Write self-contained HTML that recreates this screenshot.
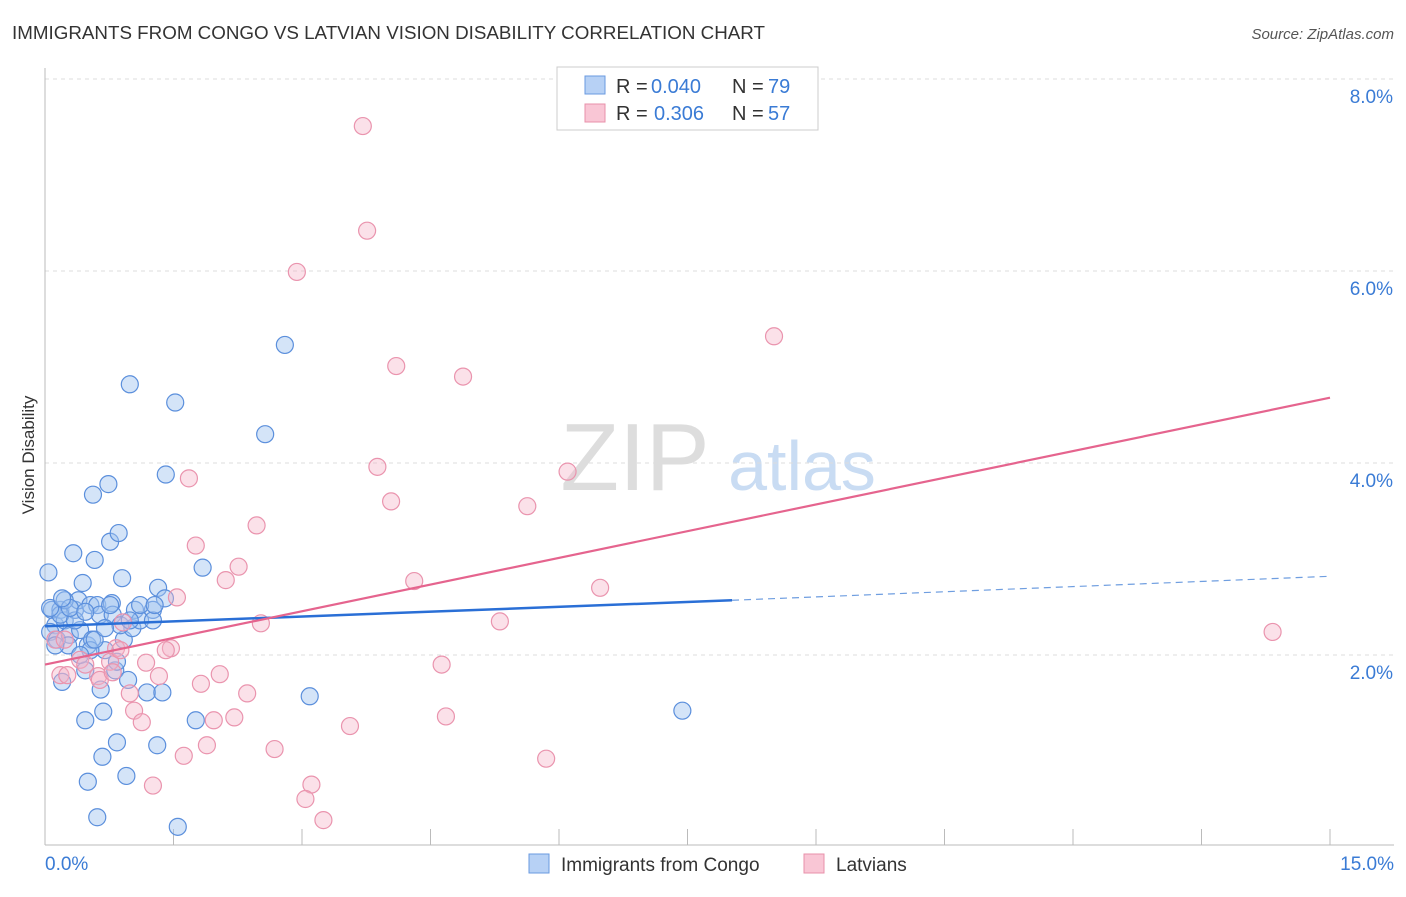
<!DOCTYPE html>
<html><head><meta charset="utf-8"><style>
body{margin:0;background:#fff;font-family:"Liberation Sans",sans-serif;}
svg text{font-family:"Liberation Sans",sans-serif;}
</style></head><body>
<svg id="chart" width="1406" height="892">
<text x="12" y="39" font-size="18" fill="#333" textLength="753" lengthAdjust="spacingAndGlyphs">IMMIGRANTS FROM CONGO VS LATVIAN VISION DISABILITY CORRELATION CHART</text>
<text x="1394" y="39" font-size="15" fill="#555" font-style="italic" text-anchor="end">Source: ZipAtlas.com</text>
<text x="635" y="490" font-size="96" fill="#ddd" font-family="Liberation Serif,serif" text-anchor="middle">ZIP</text>
<text x="802" y="490" font-size="70" fill="#c9dcf3" text-anchor="middle">atlas</text>
<text x="34" y="455" font-size="17" fill="#333" transform="rotate(-90 34 455)" text-anchor="middle">Vision Disability</text>
<g id="grid"></g><g id="axes"></g><g id="pts"></g><g id="lines"></g>
<g>
<rect x="557" y="67" width="261" height="63" fill="#fff" stroke="#ccc"/>
<rect x="585" y="76" width="20" height="18" fill="#b7d1f5" stroke="#6a9ae0"/>
<rect x="585" y="104" width="20" height="18" fill="#f9c6d5" stroke="#e890aa"/>
<text x="616" y="93" font-size="20" fill="#333">R =</text>
<text x="651" y="93" font-size="20" fill="#3a7bd5">0.040</text>
<text x="732" y="93" font-size="20" fill="#333">N =</text>
<text x="768" y="93" font-size="20" fill="#3a7bd5">79</text>
<text x="616" y="120" font-size="20" fill="#333">R =</text>
<text x="654" y="120" font-size="20" fill="#3a7bd5">0.306</text>
<text x="732" y="120" font-size="20" fill="#333">N =</text>
<text x="768" y="120" font-size="20" fill="#3a7bd5">57</text>
</g>
<g>
<rect x="529" y="854" width="20" height="19" fill="#b7d1f5" stroke="#6a9ae0"/>
<text x="561" y="871" font-size="19" fill="#333">Immigrants from Congo</text>
<rect x="804" y="854" width="20" height="19" fill="#f9c6d5" stroke="#e890aa"/>
<text x="836" y="871" font-size="19" fill="#333">Latvians</text>
</g>
</svg>
<script>
const yTicks=[2,4,6,8];
const yTickLabels=["2.0%","4.0%","6.0%","8.0%"];
const xTickLabels=["0.0%","15.0%"];
const blueX=[0.04,0.08,0.12,0.06,0.14,0.20,0.18,0.23,0.29,0.33,0.35,0.39,0.41,0.44,0.47,0.47,0.50,0.53,0.55,0.56,0.58,0.61,0.64,0.68,0.67,0.74,0.76,0.78,0.79,0.82,0.84,0.86,0.90,0.92,0.95,0.97,0.99,1.02,1.05,1.11,1.19,1.26,1.31,1.32,1.37,1.40,1.41,1.52,1.55,1.76,1.84,2.57,2.80,3.09,7.44,0.61,0.50,0.65,0.84,0.70,0.53,0.18,0.27,0.35,0.41,0.88,0.06,0.12,0.23,0.29,0.47,0.58,0.70,0.76,1.11,0.99,1.26,1.28,0.20];
const blueY=[2.86,2.47,2.31,2.24,2.16,1.72,2.47,2.36,2.21,3.06,2.47,2.57,2.26,2.75,1.84,1.32,2.10,2.52,2.16,3.67,2.99,2.52,2.42,1.41,0.94,3.78,3.18,2.54,2.42,1.84,1.09,3.27,2.80,2.16,0.74,1.74,4.82,2.28,2.47,2.36,1.61,2.47,1.06,2.70,1.61,2.59,3.88,4.63,0.21,1.32,2.91,4.30,5.23,1.57,1.42,0.31,0.68,1.64,1.93,2.05,2.05,2.42,2.10,2.36,2.00,2.31,2.49,2.10,2.57,2.49,2.45,2.16,2.28,2.52,2.52,2.36,2.36,2.52,2.59];
const pinkX=[3.71,3.76,2.94,8.51,4.10,4.88,1.68,3.88,6.10,4.04,5.63,2.47,1.76,2.26,2.11,4.31,6.48,1.54,5.31,2.52,0.91,14.33,1.47,1.41,0.83,0.41,1.18,4.63,0.76,0.18,0.26,0.62,1.33,2.04,1.82,0.99,2.36,1.04,2.21,4.68,1.97,1.13,3.56,1.89,2.68,1.62,5.85,1.26,3.11,3.04,3.25,0.47,0.64,0.12,0.23,0.88,0.79];
const pinkY=[7.51,6.42,5.99,5.32,5.01,4.90,3.84,3.96,3.91,3.60,3.55,3.35,3.14,2.92,2.78,2.77,2.70,2.60,2.35,2.33,2.34,2.24,2.07,2.05,2.07,1.95,1.92,1.90,1.93,1.79,1.79,1.78,1.78,1.80,1.70,1.60,1.60,1.42,1.35,1.36,1.32,1.30,1.26,1.06,1.02,0.95,0.92,0.64,0.65,0.50,0.28,1.90,1.74,2.16,2.16,2.05,1.82];
const blueTrend=[2.30,2.57,2.82]; const blueTrendX=[0,8.02,15];
const pinkTrend=[1.90,4.68]; const pinkTrendX=[0,15];

const NS="http://www.w3.org/2000/svg";
const X=v=>45+v/15*1285, Y=v=>847-v*96;
function mk(t,a,p){const e=document.createElementNS(NS,t);for(const k in a)e.setAttribute(k,a[k]);p.appendChild(e);return e;}
const grid=document.getElementById('grid'),axes=document.getElementById('axes'),pts=document.getElementById('pts'),lines=document.getElementById('lines');
yTicks.forEach((t,i)=>{
 const l=mk('line',{x1:45,x2:1394,y1:Y(t),y2:Y(t),stroke:'#ddd','stroke-dasharray':'4,4'},grid);
 
 
 const tx=mk('text',{x:1393,y:Y(t)+24,'font-size':19,fill:'#3a7bd5','text-anchor':'end'},grid);
 tx.textContent=yTickLabels[i];
 
 
});
const ax=mk('line',{x1:45,x2:45,y1:68,y2:845,stroke:'#bbb'},axes);


const bx=mk('line',{x1:45,x2:1394,y1:845,y2:845,stroke:'#bbb'},axes);


for(let i=0;i<=10;i++){const v=i*1.5;const t=mk('line',{x1:X(v),x2:X(v),y1:829,y2:845,stroke:'#bbb'},axes);
 
 }
[[0,'start',45],[15,'end',1394]].forEach((d,i)=>{const t=mk('text',{x:d[2],y:870,'font-size':19,fill:'#3a7bd5','text-anchor':d[1]},axes);t.textContent=xTickLabels[i];
 
 });
blueX.forEach((x,i)=>{const c=mk('circle',{cx:X(x),cy:Y(blueY[i]),r:8.5,fill:'rgba(160,195,240,0.45)',stroke:'#5b8fdc','stroke-width':1.2},pts);
 
 });
pinkX.forEach((x,i)=>{const c=mk('circle',{cx:X(x),cy:Y(pinkY[i]),r:8.5,fill:'rgba(245,180,200,0.4)',stroke:'#ea94ae','stroke-width':1.2},pts);
 
 });
const b1=mk('line',{x1:X(blueTrendX[0]),y1:Y(blueTrend[0]),x2:X(blueTrendX[1]),y2:Y(blueTrend[1]),stroke:'#2a6fd6','stroke-width':2.5},lines);


const b2=mk('line',{x1:X(blueTrendX[1]),y1:Y(blueTrend[1]),x2:X(blueTrendX[2]),y2:Y(blueTrend[2]),stroke:'#6f9ee0','stroke-width':1.2,'stroke-dasharray':'7,5'},lines);


const p1=mk('line',{x1:X(pinkTrendX[0]),y1:Y(pinkTrend[0]),x2:X(pinkTrendX[1]),y2:Y(pinkTrend[1]),stroke:'#e5648e','stroke-width':2.2},lines);


</script>
</body></html>
